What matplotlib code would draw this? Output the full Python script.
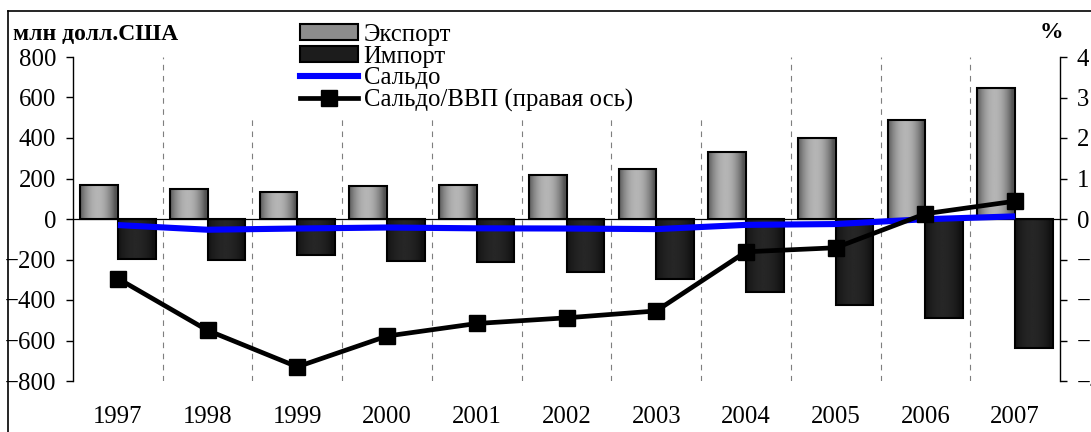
import numpy as np
import matplotlib
matplotlib.use("Agg")
import matplotlib.pyplot as plt
from matplotlib.patches import Patch, Rectangle
from matplotlib.lines import Line2D

plt.rcParams['font.family'] = ['Liberation Serif', 'DejaVu Serif']

# data, mln USD and % of GDP
years = ['1997', '1998', '1999', '2000', '2001', '2002', '2003', '2004', '2005', '2006', '2007']
export = [168, 150, 133, 163, 168, 216, 248, 331, 400, 489, 648]
imports = [-198, -203, -180, -205, -214, -263, -298, -360, -425, -490, -635]
saldo = [-30, -53, -47, -42, -46, -47, -50, -29, -25, -1, 13]
saldo_gdp = [-1.47, -2.75, -3.65, -2.89, -2.58, -2.44, -2.27, -0.81, -0.71, 0.13, 0.44]

W, H = 1091, 432
fig = plt.figure(figsize=(W / 100, H / 100), dpi=100)
ax = fig.add_axes([73 / W, 1 - 381 / H, (1060 - 73) / W, (381 - 57) / H])
ax2 = ax.twinx()

x = np.arange(len(years))
bw = 0.42
fs = 17.8

# dashed separators between years
ax.vlines(x[:-1] + 0.5, -800, 800, colors='#7f7f7f', linestyles=(0, (5, 5)), linewidth=0.8, zorder=1)
# white area behind the legend hides the separators there
ax.add_patch(Rectangle((0.179, 0.815), 0.464, 0.2, transform=ax.transAxes,
                       facecolor='white', edgecolor='none', zorder=1.5))

bars_e = ax.bar(x - bw / 2, export, bw, facecolor='none', edgecolor='black', linewidth=1.5, zorder=3)
bars_i = ax.bar(x + bw / 2, imports, bw, facecolor='none', edgecolor='black', linewidth=1.5, zorder=3)


def shade(bars, dark, light):
    t = np.linspace(0, 1, 64)
    prof = np.sin(np.pi * np.clip(t * 1.08, 0, 1)) ** 0.8
    vals = dark + (light - dark) * prof
    for r in bars:
        x0, y0, w, h = r.get_x(), r.get_y(), r.get_width(), r.get_height()
        im = ax.imshow(vals[np.newaxis, :], extent=[x0, x0 + w, y0, y0 + h], aspect='auto',
                       cmap='gray', vmin=0, vmax=1, zorder=2, interpolation='bilinear')
        im.set_clip_path(r)


shade(bars_e, 0.33, 0.71)
shade(bars_i, 0.07, 0.15)

ax.axhline(0, color='black', linewidth=0.9, zorder=2.5)
ax.plot(x, saldo, color='#0000ff', linewidth=4.4, zorder=4, solid_capstyle='butt')
ax2.plot(x, saldo_gdp, color='black', linewidth=3.4, marker='s', markersize=11, zorder=5)

ax.set_xlim(-0.5, len(years) - 0.5)
ax.set_ylim(-800, 800)
ax2.set_ylim(-4, 4)
ax.set_yticks(range(-800, 801, 200))
ax2.set_yticks(range(-4, 5, 1))
ax.set_xticks(x)
ax.set_xticklabels(years)

for s in ['top', 'bottom', 'right']:
    ax.spines[s].set_visible(False)
for s in ['top', 'bottom', 'left']:
    ax2.spines[s].set_visible(False)
ax.spines['left'].set_linewidth(1.0)
ax2.spines['right'].set_linewidth(1.0)

ax.tick_params(axis='y', length=5, width=1.0, labelsize=fs, pad=7)
ax.tick_params(axis='x', length=0, labelsize=fs, pad=18)
ax2.tick_params(axis='y', length=5, width=1.0, labelsize=fs, pad=7)

fig.text(13 / W, 1 - 34 / H, 'млн долл.США', fontsize=17, fontweight='bold', va='center', ha='left')
fig.text(1051 / W, 1 - 32 / H, '%', fontsize=17, fontweight='bold', va='center', ha='center')

handles = [
    Patch(facecolor='#8c8c8c', edgecolor='black', linewidth=1.5),
    Patch(facecolor='#1c1c1c', edgecolor='black', linewidth=1.5),
    Line2D([], [], color='#0000ff', linewidth=4.4),
    Line2D([], [], color='black', linewidth=3.4, marker='s', markersize=11),
]
labels = ['Экспорт', 'Импорт', 'Сальдо', 'Сальдо/ВВП (правая ось)']
ax2.legend(handles, labels, loc='upper left', bbox_to_anchor=(300 / W, 1 - 24 / H),
           bbox_transform=fig.transFigure, frameon=False, fontsize=fs, borderpad=0,
           borderaxespad=0, handlelength=2.35, handleheight=0.62, handletextpad=0.22,
           labelspacing=-0.02)

# outer frame
fig.add_artist(Line2D([8 / W, 8 / W], [0, 1 - 11 / H], color='black', linewidth=1.2))
fig.add_artist(Line2D([8 / W, 1], [1 - 11 / H, 1 - 11 / H], color='black', linewidth=1.2))

fig.savefig('out.png', dpi=100)
